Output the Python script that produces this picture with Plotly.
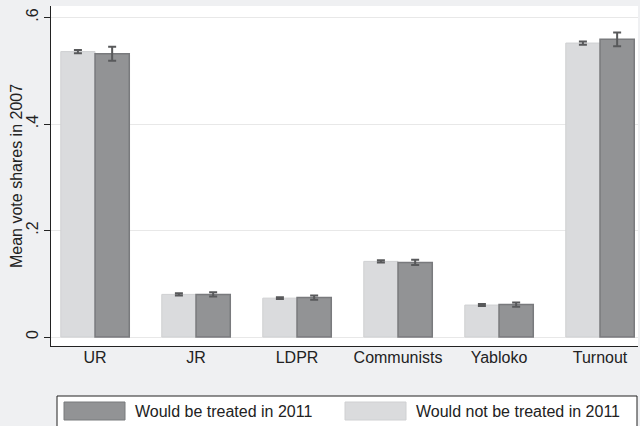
import plotly.graph_objects as go

# Party vote shares in 2007, split by 2011 treatment status
categories = ["UR", "JR", "LDPR", "Communists", "Yabloko", "Turnout"]
not_treated_mean = [0.536, 0.080, 0.073, 0.142, 0.060, 0.552]
not_treated_err = [0.003, 0.002, 0.0015, 0.002, 0.002, 0.003]
treated_mean = [0.532, 0.080, 0.074, 0.140, 0.061, 0.559]
treated_err = [0.013, 0.004, 0.004, 0.005, 0.004, 0.013]

y_tickvals = [0, 0.2, 0.4, 0.6]
y_ticktext = ["0", ".2", ".4", ".6"]
y_title = "Mean vote shares in 2007"

legend_labels = ["Would be treated in 2011", "Would not be treated in 2011"]

FONT = "Liberation Sans, Arial, Helvetica, sans-serif"
TEXT = "#222222"
LIGHT_FILL, LIGHT_EDGE = "#dadbdd", "#cfd0d2"
DARK_FILL, DARK_EDGE = "#929395", "#797a7d"
ERR_COLOR = "#58595b"
BG = "#eff0f2"

x_pos = list(range(len(categories)))

fig = go.Figure()
fig.add_trace(go.Bar(
    x=x_pos, y=not_treated_mean, name=legend_labels[1],
    marker=dict(color=LIGHT_FILL, line=dict(color=LIGHT_EDGE, width=1)),
    error_y=dict(type="data", array=not_treated_err, color=ERR_COLOR,
                 thickness=2, width=4),
    showlegend=False,
))
fig.add_trace(go.Bar(
    x=x_pos, y=treated_mean, name=legend_labels[0],
    marker=dict(color=DARK_FILL, line=dict(color=DARK_EDGE, width=1.5)),
    error_y=dict(type="data", array=treated_err, color=ERR_COLOR,
                 thickness=2, width=4),
    showlegend=False,
))

# Helpers converting pixel positions to paper units (plot area: x 51..638, y 6..346)
H, W = 340.0, 587.0
def px_x(px):
    return (px - 51) / W
def px_y(py):
    return (346 - py) / H

shapes = [
    dict(type="rect", xref="paper", yref="paper",
         x0=px_x(57), x1=px_x(637), y0=px_y(440), y1=px_y(396),
         fillcolor="white", line=dict(color=TEXT, width=1), layer="above"),
    dict(type="rect", xref="paper", yref="paper",
         x0=px_x(64), x1=px_x(125), y0=px_y(420), y1=px_y(402),
         fillcolor=DARK_FILL, line=dict(color=DARK_EDGE, width=1), layer="above"),
    dict(type="rect", xref="paper", yref="paper",
         x0=px_x(345), x1=px_x(406), y0=px_y(420), y1=px_y(402),
         fillcolor=LIGHT_FILL, line=dict(color=LIGHT_EDGE, width=1), layer="above"),
]
annotations = [
    dict(xref="paper", yref="paper", x=px_x(134), y=px_y(411),
         text=legend_labels[0], showarrow=False, xanchor="left", yanchor="middle",
         font=dict(family=FONT, size=16, color=TEXT), borderpad=0),
    dict(xref="paper", yref="paper", x=px_x(415), y=px_y(411),
         text=legend_labels[1], showarrow=False, xanchor="left", yanchor="middle",
         font=dict(family=FONT, size=16, color=TEXT), borderpad=0),
    dict(xref="paper", yref="paper", x=px_x(16), y=0.5,
         text=y_title, textangle=-90, showarrow=False,
         xanchor="center", yanchor="middle",
         font=dict(family=FONT, size=16, color=TEXT), borderpad=0),
]

fig.update_layout(
    width=640, height=426,
    margin=dict(l=51, r=2, t=6, b=80),
    paper_bgcolor=BG, plot_bgcolor="white",
    barmode="group", bargap=0.322, bargroupgap=0,
    font=dict(family=FONT, size=16, color=TEXT),
    shapes=shapes, annotations=annotations,
    showlegend=False,
)
fig.update_xaxes(
    range=[-0.436, 5.376],
    tickvals=x_pos, ticktext=categories,
    showgrid=False, zeroline=False,
    showline=True, linecolor=TEXT, linewidth=1,
    ticks="", tickfont=dict(size=16, color=TEXT),
    ticklabelstandoff=-3,
)
fig.update_yaxes(
    range=[-0.0169, 0.6216],
    tickvals=y_tickvals, ticktext=y_ticktext, tickangle=-90,
    showgrid=True, gridcolor="#e8e8e8", gridwidth=1, zeroline=False,
    showline=True, linecolor=TEXT, linewidth=1,
    ticks="outside", ticklen=6, tickcolor=TEXT,
    tickfont=dict(size=16, color=TEXT),
)

fig.write_html("out.html")
